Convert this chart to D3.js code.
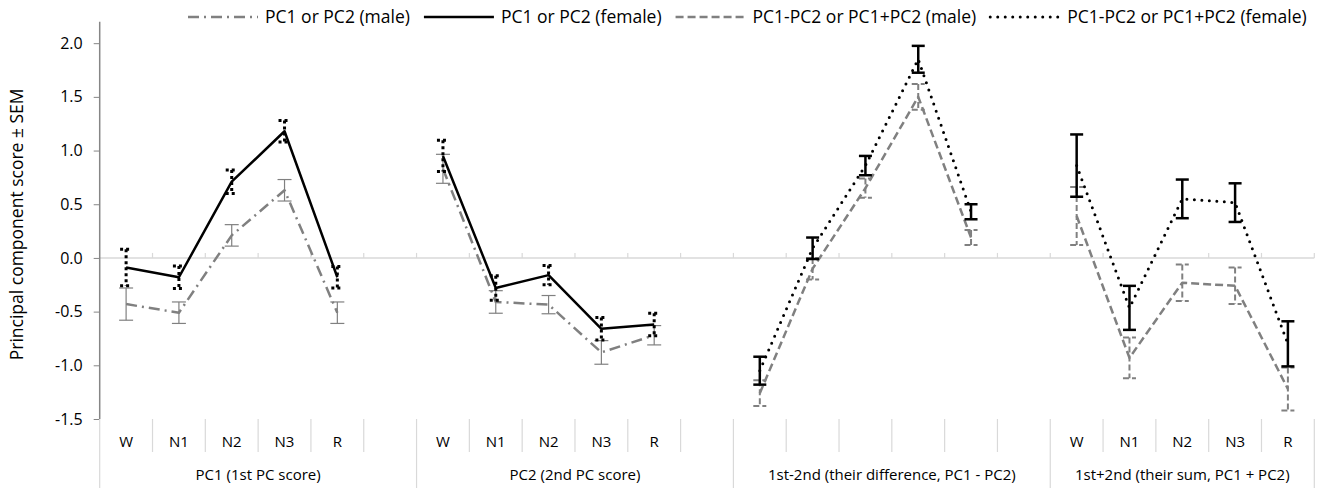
<!DOCTYPE html>
<html>
<head>
<meta charset="utf-8">
<script src="https://cdn.jsdelivr.net/npm/d3@7"></script>
<style>
  html, body { margin: 0; padding: 0; background: #fff; }
  svg { display: block; font-family: "Open Sans", "Noto Sans", sans-serif; }
</style>
</head>
<body>
<svg id="chart" width="1317" height="488"></svg>
<script>
// ---------- data ----------
const groupLabels = ["PC1 (1st PC score)", "PC2 (2nd PC score)", "1st-2nd (their difference, PC1 - PC2)", "1st+2nd (their sum, PC1 + PC2)"];
const stageLabels = [
  ["W", "N1", "N2", "N3", "R", ""],
  ["W", "N1", "N2", "N3", "R", ""],
  ["", "", "", "", "", ""],
  ["W", "N1", "N2", "N3", "R"]
];
const yTicks = [-1.5, -1.0, -0.5, 0.0, 0.5, 1.0, 1.5, 2.0];
const seriesNames = ["PC1 or PC2 (male)", "PC1 or PC2 (female)", "PC1-PC2 or PC1+PC2 (male)", "PC1-PC2 or PC1+PC2 (female)"];

const _ = null;
// PC1 or PC2 (male)
const pcMaleMean   = [-0.43, -0.51, 0.21, 0.63, -0.51, _,  0.83, -0.41, -0.435, -0.88, -0.72, _,  _, _, _, _, _, _,  _, _, _, _, _];
const pcMaleSem    = [ 0.15,  0.10, 0.10, 0.10,  0.10, _,  0.135, 0.105, 0.085, 0.11,  0.09, _,  _, _, _, _, _, _,  _, _, _, _, _];
// PC1 or PC2 (female)
const pcFemaleMean = [-0.09, -0.18, 0.71, 1.18, -0.18, _,  0.95, -0.28, -0.16, -0.66, -0.62, _,  _, _, _, _, _, _,  _, _, _, _, _];
const pcFemaleSem  = [ 0.17,  0.105, 0.11, 0.10, 0.10, _,  0.145, 0.115, 0.09, 0.105, 0.105, _,  _, _, _, _, _, _,  _, _, _, _, _];
// PC1-PC2 or PC1+PC2 (male)
const sdMaleMean   = [_, _, _, _, _, _,  _, _, _, _, _, _,  -1.26, -0.10, 0.65, 1.50, 0.19, _,  0.39, -0.93, -0.23, -0.26, -1.22];
const sdMaleSem    = [_, _, _, _, _, _,  _, _, _, _, _, _,   0.12,  0.10, 0.09, 0.12, 0.07, _,  0.27,  0.19,  0.17,  0.17,  0.20];
// PC1-PC2 or PC1+PC2 (female)
const sdFemaleMean = [_, _, _, _, _, _,  _, _, _, _, _, _,  -1.05, 0.09, 0.86, 1.85, 0.43, _,  0.86, -0.465, 0.55, 0.515, -0.80];
const sdFemaleSem  = [_, _, _, _, _, _,  _, _, _, _, _, _,   0.13, 0.10, 0.09, 0.125, 0.07, _,  0.29,  0.205, 0.18, 0.18,  0.21];

// ---------- setup ----------
const svg = d3.select("#chart");
const cats = [];
stageLabels.forEach((arr, g) => arr.forEach((lab, i) => cats.push({ id: g + "_" + i, g, lab })));

const x = d3.scaleBand().domain(cats.map(c => c.id)).range([99.7, 1314.3]).padding(0);
const y = d3.scaleLinear().domain([-1.5, 2.2]).range([419, 21.7]);
const xc = i => x(cats[i].id) + x.bandwidth() / 2;

const gridCol = "#d9d9d9";
const axisCol = "#868686";
const textCol = "#000";

// zero line (category axis line) with upward ticks
svg.append("line").attr("x1", x.range()[0]).attr("x2", x.range()[1])
  .attr("y1", y(0)).attr("y2", y(0)).attr("stroke", gridCol).attr("stroke-width", 1.5);
const bounds = cats.map(c => x(c.id)).concat([x.range()[1]]);
svg.append("g").selectAll("line").data(bounds.slice(1)).join("line")
  .attr("x1", d => d).attr("x2", d => d).attr("y1", y(0)).attr("y2", y(0) - 5)
  .attr("stroke", gridCol).attr("stroke-width", 1.2);

// y axis
const yAxis = d3.axisLeft(y).tickValues(yTicks).tickFormat(d => d.toFixed(1)).tickSize(6).tickPadding(11);
const ya = svg.append("g").attr("transform", `translate(${x.range()[0]},0)`).call(yAxis);
ya.select(".domain").attr("stroke", axisCol).attr("stroke-width", 1.5).attr("d", `M0,${y(2.2)}V${y(-1.5)}`);
ya.selectAll(".tick line").attr("stroke", axisCol).attr("stroke-width", 1);
ya.selectAll(".tick text").attr("font-size", 16).attr("fill", textCol).attr("font-family", "Open Sans");

svg.append("text").attr("transform", `translate(23,${(y(2.2) + y(-1.5)) / 2 + 4}) rotate(-90)`)
  .attr("text-anchor", "middle").attr("font-size", 17.5).attr("fill", textCol)
  .text("Principal component score  \u00B1 SEM");

// category label area
const catTop = y(-1.5), lvl1Bottom = 452, lvl2Bottom = 488;
const groupStarts = [];
let idx = 0;
stageLabels.forEach(arr => { groupStarts.push(idx); idx += arr.length; });
const ca = svg.append("g");
bounds.forEach((b, i) => {
  const isGroup = groupStarts.includes(i) || i === cats.length;
  ca.append("line").attr("x1", b).attr("x2", b).attr("y1", catTop)
    .attr("y2", isGroup ? lvl2Bottom : lvl1Bottom)
    .attr("stroke", gridCol).attr("stroke-width", 1.2);
});
ca.selectAll("text.stage").data(cats).join("text").attr("class", "stage")
  .attr("x", (d, i) => xc(i)).attr("y", 447).attr("text-anchor", "middle")
  .attr("font-size", 15).attr("fill", textCol).text(d => d.lab);
ca.selectAll("text.group").data(groupLabels).join("text").attr("class", "group")
  .attr("x", (d, g) => {
    const s = groupStarts[g], e = s + stageLabels[g].length;
    return (bounds[s] + bounds[e]) / 2;
  })
  .attr("y", 480).attr("text-anchor", "middle").attr("font-size", 15).attr("fill", textCol).text(d => d);

// ---------- series ----------
const series = [
  { name: seriesNames[0], mean: pcMaleMean, sem: pcMaleSem, color: "#808080", width: 2.5, dash: "11,5,2,5", cap: "butt",
    eb: { color: "#808080", width: 1.2, dash: null, half: 7 } },
  { name: seriesNames[1], mean: pcFemaleMean, sem: pcFemaleSem, color: "#000", width: 2.5, dash: null, cap: "butt",
    eb: { color: "#000", width: 3, dash: "3,3", half: 6 } },
  { name: seriesNames[2], mean: sdMaleMean, sem: sdMaleSem, color: "#808080", width: 2.5, dash: "8,4", cap: "butt",
    eb: { color: "#808080", width: 2, dash: "6,3", half: 6.5 } },
  { name: seriesNames[3], mean: sdFemaleMean, sem: sdFemaleSem, color: "#000", width: 3, dash: "0,7.5", cap: "round",
    eb: { color: "#000", width: 2.5, dash: null, half: 6.5 } }
];

const line = d3.line().defined(d => d.v != null).x(d => xc(d.i)).y(d => y(d.v));

series.forEach(s => {
  const pts = s.mean.map((v, i) => ({ i, v }));
  const g = svg.append("g");
  g.append("path").attr("d", line(pts)).attr("fill", "none")
    .attr("stroke", s.color).attr("stroke-width", s.width)
    .attr("stroke-dasharray", s.dash).attr("stroke-linecap", s.cap).attr("stroke-linejoin", "round");
  const ebG = g.append("g").attr("stroke", s.eb.color).attr("stroke-width", s.eb.width)
    .attr("stroke-dasharray", s.eb.dash).attr("fill", "none");
  pts.filter(d => d.v != null).forEach(d => {
    const cx = xc(d.i), sem = s.sem[d.i];
    const y1 = y(d.v + sem), y2 = y(d.v - sem);
    ebG.append("line").attr("x1", cx).attr("x2", cx).attr("y1", y1).attr("y2", y2);
    ebG.append("line").attr("x1", cx - s.eb.half).attr("x2", cx + s.eb.half).attr("y1", y1).attr("y2", y1);
    ebG.append("line").attr("x1", cx - s.eb.half).attr("x2", cx + s.eb.half).attr("y1", y2).attr("y2", y2);
  });
});

// ---------- legend ----------
const leg = svg.append("g");
let lx = 188;
const legY = 17;
series.forEach(s => {
  leg.append("line").attr("x1", lx).attr("x2", lx + 70).attr("y1", legY).attr("y2", legY)
    .attr("stroke", s.color).attr("stroke-width", s.width).attr("stroke-dasharray", s.dash).attr("stroke-linecap", s.cap);
  const t = leg.append("text").attr("x", lx + 77).attr("y", legY + 6).attr("font-size", 17.5).attr("fill", textCol).text(s.name);
  lx += 77 + t.node().getComputedTextLength() + 14;
});
</script>
</body>
</html>
